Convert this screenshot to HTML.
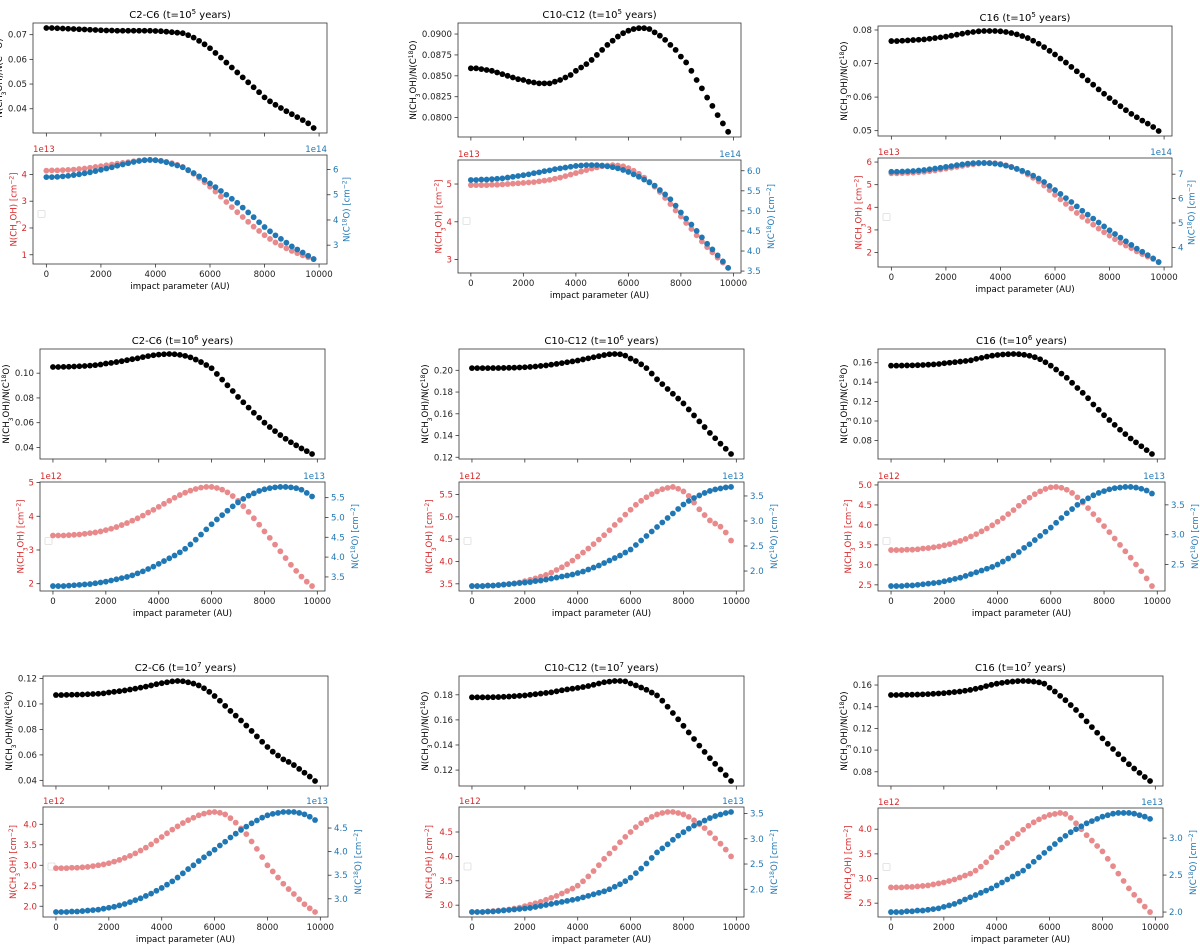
<!DOCTYPE html>
<html><head><meta charset="utf-8"><style>
html,body{margin:0;padding:0;background:#fff;}
svg{display:block;font-family:"DejaVu Sans","Liberation Sans",sans-serif;}
</style></head><body>
<svg id="fig" width="1200" height="951" viewBox="0 0 1200 951" xmlns="http://www.w3.org/2000/svg"></svg>
<script>
const xs = [];
for (let i = 0; i < 50; i++) xs.push(i * 200);
const xTicks = [0, 2000, 4000, 6000, 8000, 10000];

const titles = ["C2-C6", "C10-C12", "C16", "C2-C6", "C10-C12", "C16", "C2-C6", "C10-C12", "C16"];
const timeExp = ["5", "5", "5", "6", "6", "6", "7", "7", "7"];
const redExp = ["1e13", "1e13", "1e13", "1e12", "1e12", "1e12", "1e12", "1e12", "1e12"];
const blueExp = ["1e14", "1e14", "1e14", "1e13", "1e13", "1e13", "1e13", "1e13", "1e13"];

const ratio1 = [.0727,.0727,.0726,.0725,.0724,.0723,.0722,.0721,.0720,.0719,.0718,.0717,.0717,.0716,.0716,.0716,.0716,.0716,.0716,.0716,.0715,.0714,.0712,.0710,.0708,.0706,.0698,.0688,.0675,.0661,.0645,.0626,.0607,.0587,.0567,.0547,.0527,.0507,.0487,.0467,.0446,.0430,.0416,.0403,.0390,.0378,.0366,.0354,.0341,.0322];
const red1 = [4.14,4.15,4.15,4.16,4.17,4.18,4.20,4.22,4.25,4.28,4.31,4.34,4.37,4.40,4.43,4.46,4.49,4.52,4.53,4.54,4.53,4.51,4.47,4.42,4.36,4.28,4.15,4.02,3.87,3.71,3.54,3.36,3.17,2.97,2.78,2.59,2.41,2.23,2.05,1.89,1.73,1.59,1.46,1.35,1.24,1.14,1.06,0.98,0.91,0.84];
const blue1 = [5.70,5.70,5.71,5.73,5.75,5.78,5.81,5.85,5.89,5.94,5.99,6.04,6.09,6.15,6.20,6.25,6.30,6.34,6.37,6.38,6.37,6.34,6.29,6.22,6.16,6.09,5.98,5.86,5.73,5.59,5.45,5.30,5.15,5.00,4.84,4.68,4.49,4.30,4.11,3.91,3.72,3.55,3.39,3.25,3.10,2.95,2.83,2.71,2.58,2.45];

const ratio2 = [.0859,.0859,.0858,.0857,.0856,.0854,.0852,.0850,.0848,.0846,.0845,.0843,.0842,.0841,.0841,.0841,.0843,.0845,.0848,.0851,.0856,.0860,.0864,.0869,.0875,.0881,.0887,.0892,.0897,.0901,.0904,.0906,.0907,.0907,.0906,.0902,.0898,.0893,.0887,.0881,.0873,.0866,.0856,.0845,.0835,.0824,.0814,.0803,.0793,.0783];
const red2 = [4.97,4.97,4.97,4.97,4.98,4.98,4.99,5.00,5.01,5.02,5.03,5.04,5.05,5.07,5.09,5.11,5.14,5.17,5.21,5.25,5.29,5.33,5.37,5.41,5.44,5.47,5.49,5.50,5.49,5.47,5.42,5.35,5.27,5.17,5.06,4.93,4.79,4.63,4.47,4.30,4.14,3.97,3.81,3.64,3.48,3.33,3.19,3.05,2.92,2.78];
const blue2 = [5.77,5.77,5.78,5.78,5.79,5.80,5.81,5.83,5.85,5.87,5.89,5.91,5.94,5.96,5.99,6.01,6.04,6.06,6.08,6.10,6.12,6.13,6.14,6.14,6.14,6.13,6.11,6.09,6.06,6.02,5.97,5.91,5.85,5.78,5.71,5.63,5.52,5.41,5.29,5.13,4.96,4.81,4.66,4.50,4.34,4.18,4.04,3.89,3.74,3.58];

const ratio3 = [.0767,.0767,.0768,.0769,.0770,.0771,.0772,.0774,.0776,.0778,.0780,.0783,.0786,.0789,.0792,.0794,.0796,.0797,.0797,.0797,.0796,.0794,.0791,.0787,.0782,.0776,.0768,.0759,.0749,.0738,.0727,.0715,.0703,.0690,.0677,.0664,.0650,.0637,.0623,.0610,.0597,.0585,.0573,.0561,.0550,.0540,.0530,.0521,.0511,.0499];
const red3 = [5.50,5.50,5.51,5.52,5.53,5.55,5.57,5.60,5.63,5.67,5.71,5.75,5.79,5.83,5.87,5.90,5.93,5.95,5.96,5.95,5.92,5.86,5.79,5.69,5.58,5.45,5.30,5.14,4.96,4.76,4.55,4.35,4.15,3.95,3.75,3.58,3.40,3.23,3.06,2.90,2.75,2.59,2.44,2.31,2.19,2.05,1.93,1.82,1.71,1.58];
const blue3 = [7.10,7.10,7.11,7.12,7.13,7.15,7.17,7.20,7.23,7.26,7.30,7.33,7.37,7.40,7.43,7.45,7.46,7.46,7.45,7.43,7.40,7.35,7.29,7.22,7.14,7.05,6.94,6.82,6.68,6.52,6.35,6.19,6.02,5.86,5.68,5.50,5.34,5.18,5.02,4.86,4.70,4.55,4.40,4.25,4.10,3.95,3.82,3.68,3.55,3.40];

const ratio4 = [.1050,.1050,.1051,.1052,.1054,.1056,.1058,.1061,.1065,.1070,.1078,.1083,.1090,.1097,.1105,.1113,.1120,.1130,.1138,.1145,.1150,.1153,.1155,.1153,.1148,.1140,.1128,.1110,.1090,.1066,.1040,.0994,.0948,.0902,.0856,.0808,.0765,.0722,.0680,.0640,.0600,.0565,.0532,.0500,.0470,.0442,.0417,.0392,.0370,.0347];
const red4 = [3.43,3.43,3.43,3.44,3.45,3.46,3.48,3.50,3.52,3.55,3.59,3.63,3.68,3.74,3.80,3.87,3.94,4.02,4.11,4.19,4.28,4.37,4.46,4.55,4.63,4.70,4.76,4.81,4.85,4.87,4.87,4.84,4.79,4.71,4.60,4.46,4.30,4.13,3.94,3.75,3.55,3.36,3.16,2.96,2.76,2.56,2.38,2.21,2.06,1.93];
const blue4 = [3.27,3.27,3.27,3.28,3.29,3.30,3.31,3.32,3.34,3.36,3.38,3.41,3.44,3.47,3.50,3.54,3.59,3.64,3.70,3.76,3.83,3.90,3.97,4.04,4.12,4.21,4.32,4.44,4.57,4.70,4.83,4.95,5.06,5.17,5.28,5.38,5.47,5.55,5.61,5.67,5.71,5.74,5.76,5.77,5.77,5.76,5.74,5.70,5.62,5.53];

const ratio5 = [.2020,.2020,.2020,.2020,.2021,.2021,.2022,.2023,.2024,.2026,.2028,.2031,.2035,.2040,.2045,.2052,.2059,.2066,.2074,.2082,.2090,.2100,.2110,.2120,.2130,.2140,.2148,.2150,.2148,.2135,.2108,.2085,.2055,.2020,.1970,.1917,.1873,.1828,.1784,.1740,.1695,.1640,.1585,.1530,.1478,.1424,.1375,.1325,.1278,.1230];
const red5 = [3.45,3.45,3.45,3.46,3.46,3.47,3.48,3.49,3.51,3.53,3.56,3.59,3.62,3.66,3.70,3.75,3.81,3.87,3.94,4.02,4.11,4.20,4.29,4.39,4.49,4.59,4.70,4.82,4.93,5.05,5.16,5.27,5.36,5.44,5.51,5.57,5.62,5.65,5.67,5.63,5.57,5.47,5.32,5.17,5.04,4.92,4.85,4.78,4.65,4.47];
const blue5 = [1.70,1.70,1.70,1.71,1.71,1.72,1.73,1.74,1.75,1.76,1.77,1.78,1.80,1.81,1.83,1.85,1.87,1.89,1.91,1.93,1.96,1.99,2.03,2.07,2.11,2.16,2.21,2.26,2.31,2.37,2.43,2.52,2.61,2.70,2.79,2.88,2.97,3.06,3.15,3.24,3.33,3.40,3.46,3.51,3.56,3.60,3.63,3.65,3.67,3.68];

const ratio6 = [.1570,.1570,.1571,.1572,.1573,.1575,.1577,.1580,.1583,.1587,.1595,.1600,.1606,.1612,.1618,.1625,.1640,.1650,.1663,.1673,.1680,.1685,.1688,.1690,.1688,.1682,.1672,.1657,.1636,.1605,.1570,.1530,.1488,.1445,.1393,.1340,.1290,.1235,.1170,.1115,.1060,.1010,.0960,.0910,.0865,.0820,.0780,.0740,.0700,.0660];
const red6 = [3.37,3.37,3.37,3.38,3.38,3.39,3.41,3.42,3.44,3.46,3.49,3.52,3.56,3.60,3.65,3.71,3.77,3.84,3.91,3.99,4.08,4.17,4.27,4.37,4.48,4.58,4.68,4.77,4.84,4.90,4.94,4.95,4.93,4.88,4.80,4.69,4.56,4.42,4.27,4.12,3.97,3.82,3.66,3.50,3.34,3.18,3.01,2.84,2.66,2.47];
const blue6 = [2.14,2.14,2.14,2.15,2.15,2.16,2.17,2.18,2.19,2.20,2.22,2.24,2.26,2.28,2.31,2.34,2.37,2.40,2.43,2.46,2.50,2.55,2.60,2.65,2.71,2.78,2.84,2.91,2.98,3.05,3.12,3.20,3.28,3.36,3.43,3.50,3.56,3.61,3.66,3.70,3.73,3.76,3.78,3.79,3.80,3.80,3.79,3.77,3.74,3.69];

const ratio7 = [.1070,.1070,.1071,.1072,.1073,.1074,.1076,.1078,.1080,.1083,.1090,.1095,.1100,.1106,.1113,.1120,.1128,.1136,.1145,.1155,.1163,.1170,.1177,.1180,.1178,.1170,.1160,.1145,.1123,.1095,.1062,.1025,.0985,.0945,.0908,.0870,.0830,.0788,.0745,.0703,.0662,.0625,.0595,.0565,.0545,.0520,.0490,.0460,.0430,.0395];
const red7 = [2.93,2.93,2.93,2.94,2.94,2.95,2.96,2.98,3.00,3.02,3.05,3.09,3.13,3.18,3.23,3.29,3.36,3.43,3.51,3.60,3.69,3.78,3.87,3.95,4.03,4.10,4.16,4.22,4.26,4.29,4.30,4.28,4.24,4.15,4.04,3.90,3.76,3.58,3.40,3.20,3.00,2.85,2.70,2.55,2.42,2.30,2.17,2.05,1.95,1.86];
const blue7 = [2.72,2.72,2.72,2.73,2.73,2.74,2.75,2.76,2.77,2.79,2.81,2.83,2.86,2.89,2.93,2.97,3.01,3.06,3.11,3.17,3.23,3.30,3.37,3.45,3.54,3.63,3.71,3.80,3.88,3.96,4.04,4.13,4.21,4.30,4.38,4.46,4.53,4.60,4.66,4.72,4.77,4.80,4.82,4.84,4.84,4.84,4.82,4.79,4.74,4.67];

const ratio8 = [.1780,.1780,.1780,.1780,.1781,.1782,.1784,.1786,.1789,.1792,.1795,.1800,.1805,.1810,.1815,.1820,.1828,.1836,.1843,.1849,.1855,.1862,.1870,.1880,.1890,.1900,.1905,.1910,.1910,.1907,.1890,.1875,.1858,.1840,.1818,.1795,.1753,.1705,.1655,.1605,.1553,.1500,.1448,.1395,.1345,.1295,.1250,.1205,.1160,.1113];
const red8 = [2.86,2.86,2.86,2.87,2.88,2.89,2.90,2.91,2.93,2.95,2.98,3.01,3.04,3.07,3.11,3.15,3.19,3.24,3.29,3.34,3.40,3.49,3.59,3.70,3.82,3.95,4.06,4.17,4.29,4.40,4.50,4.60,4.68,4.75,4.81,4.86,4.89,4.91,4.91,4.89,4.86,4.81,4.74,4.66,4.58,4.48,4.37,4.26,4.14,4.00];
const blue8 = [1.55,1.55,1.55,1.56,1.56,1.57,1.58,1.59,1.60,1.61,1.62,1.63,1.65,1.67,1.69,1.71,1.73,1.75,1.77,1.79,1.81,1.84,1.87,1.90,1.93,1.96,2.00,2.05,2.10,2.16,2.23,2.32,2.41,2.51,2.62,2.73,2.81,2.89,2.98,3.06,3.13,3.20,3.26,3.31,3.36,3.41,3.45,3.48,3.51,3.53];

const ratio9 = [.1508,.1508,.1509,.1510,.1511,.1512,.1514,.1516,.1519,.1522,.1525,.1530,.1535,.1540,.1547,.1555,.1565,.1575,.1590,.1602,.1612,.1620,.1627,.1632,.1636,.1637,.1636,.1632,.1625,.1612,.1575,.1540,.1500,.1460,.1415,.1370,.1318,.1265,.1212,.1160,.1108,.1058,.1010,.0962,.0915,.0870,.0830,.0790,.0752,.0715];
const red9 = [2.82,2.82,2.82,2.83,2.83,2.84,2.85,2.86,2.88,2.90,2.92,2.95,2.98,3.02,3.06,3.10,3.16,3.24,3.33,3.43,3.54,3.63,3.72,3.81,3.90,3.99,4.07,4.14,4.20,4.25,4.29,4.31,4.33,4.31,4.23,4.12,4.00,3.88,3.77,3.66,3.55,3.40,3.25,3.10,2.95,2.80,2.67,2.55,2.43,2.32];
const blue9 = [2.00,2.00,2.00,2.01,2.01,2.02,2.02,2.03,2.04,2.05,2.07,2.09,2.11,2.14,2.17,2.20,2.23,2.26,2.29,2.32,2.36,2.40,2.44,2.48,2.52,2.56,2.62,2.68,2.74,2.80,2.86,2.92,2.98,3.03,3.08,3.12,3.16,3.20,3.23,3.26,3.29,3.31,3.33,3.34,3.34,3.34,3.33,3.31,3.29,3.26];

const ratioTicks1 = [0.04,0.05,0.06,0.07], ratioTicks2 = [0.08,0.0825,0.085,0.0875,0.09], ratioTicks3 = [0.05,0.06,0.07,0.08];
const ratioTicks4 = [0.04,0.06,0.08,0.10], ratioTicks5 = [0.12,0.14,0.16,0.18,0.20], ratioTicks6 = [0.08,0.10,0.12,0.14,0.16];
const ratioTicks7 = [0.04,0.06,0.08,0.10,0.12], ratioTicks8 = [0.12,0.14,0.16,0.18], ratioTicks9 = [0.08,0.10,0.12,0.14,0.16];
const redTicks1 = [1,2,3,4], redTicks2 = [3,4,5], redTicks3 = [2,3,4,5,6];
const redTicks4 = [2,3,4,5], redTicks5 = [3.5,4.0,4.5,5.0,5.5], redTicks6 = [2.5,3.0,3.5,4.0,4.5,5.0];
const redTicks7 = [2.0,2.5,3.0,3.5,4.0], redTicks8 = [3.0,3.5,4.0,4.5], redTicks9 = [2.5,3.0,3.5,4.0];
const blueTicks1 = [3,4,5,6], blueTicks2 = [3.5,4.0,4.5,5.0,5.5,6.0], blueTicks3 = [4,5,6,7];
const blueTicks4 = [3.5,4.0,4.5,5.0,5.5], blueTicks5 = [2.0,2.5,3.0,3.5], blueTicks6 = [2.5,3.0,3.5];
const blueTicks7 = [3.0,3.5,4.0,4.5], blueTicks8 = [2.0,2.5,3.0,3.5], blueTicks9 = [2.0,2.5,3.0];

const ratioDec = [2,4,2,2,2,2,2,2,2];
const redDec = [0,0,0,0,1,1,1,1,1];
const blueDec = [0,1,0,1,1,1,1,1,1];

// layout: [left, right, top1, bottom1, top2, bottom2]
const geom = [
  [33,327,23,133,155,264],[458,741,23,137,160,273],[878,1172,26,136,158,267],
  [40,325,349,459,482,591],[459,744,349,459,482,591],[878,1165,349,459,482,591],
  [43,328,676,786,807,917],[459,744,676,786,807,917],[878,1163,676,786,808,917]
];

const ratios = [ratio1,ratio2,ratio3,ratio4,ratio5,ratio6,ratio7,ratio8,ratio9];
const reds = [red1,red2,red3,red4,red5,red6,red7,red8,red9];
const blues = [blue1,blue2,blue3,blue4,blue5,blue6,blue7,blue8,blue9];
const rTicks = [ratioTicks1,ratioTicks2,ratioTicks3,ratioTicks4,ratioTicks5,ratioTicks6,ratioTicks7,ratioTicks8,ratioTicks9];
const reTicks = [redTicks1,redTicks2,redTicks3,redTicks4,redTicks5,redTicks6,redTicks7,redTicks8,redTicks9];
const bTicks = [blueTicks1,blueTicks2,blueTicks3,blueTicks4,blueTicks5,blueTicks6,blueTicks7,blueTicks8,blueTicks9];

const NS = "http://www.w3.org/2000/svg";
const svg = document.getElementById("fig");
function mk(tag, attrs, parent, text) {
  const e = document.createElementNS(NS, tag);
  for (const k in attrs) e.setAttribute(k, attrs[k]);
  if (text !== undefined) e.textContent = text;
  (parent || svg).appendChild(e);
  return e;
}
const RED = "#d62728", BLUE = "#1f77b4", FS = 8.6;

function scaleY(vals, top, bot) {
  let mn = Math.min(...vals), mx = Math.max(...vals);
  const m = (mx - mn) * 0.05; mn -= m; mx += m;
  return v => bot - (v - mn) / (mx - mn) * (bot - top);
}
function yAxis(g, ticks, dec, sy, x, side, color, top, bot, name) {
  let maxLen = 0;
  ticks.forEach(t => {
    const y = sy(t);
    if (y < top - 0.5 || y > bot + 0.5) return;
    const lbl = t.toFixed(dec);
    maxLen = Math.max(maxLen, lbl.length);
    const tk = mk("line", {x1: x, x2: x + side * 3.5, y1: y, y2: y, stroke: "#333", "stroke-width": 0.8}, g);
    
    
    const tx = mk("text", {x: x + side * 6, y: y + 3, "font-size": FS, fill: color, "text-anchor": side < 0 ? "end" : "start"}, g, lbl);
    
    
  });
  return maxLen;
}
function rotLabel(g, cx, cy, parts, color, name) {
  const t = mk("text", {x: 0, y: 0, "font-size": FS, fill: color, "text-anchor": "middle", transform: `translate(${cx},${cy}) rotate(-90)`}, g);
  
  
  parts.forEach(p => {
    const s = mk("tspan", p[1] ? {"baseline-shift": p[1], "font-size": FS * 0.7} : {}, t, p[0]);
  });
}

for (let p = 0; p < 9; p++) {
  const [L, R, T1, B1, T2, B2] = geom[p];
  const g = mk("g", {});
  
  
  const sx = v => L + (v + 490) / 10780 * (R - L);

  // title
  const tt = mk("text", {x: (L + R) / 2, y: T1 - 5, "font-size": 10, "text-anchor": "middle", fill: "#000"}, g);
  
  
  mk("tspan", {}, tt, titles[p] + " (t=10");
  mk("tspan", {"baseline-shift": "super", "font-size": 7}, tt, timeExp[p]);
  mk("tspan", {}, tt, " years)");

  // top ratio plot
  const syR = scaleY(ratios[p], T1, B1);
  const f1 = mk("rect", {x: L, y: T1, width: R - L, height: B1 - T1, fill: "none", stroke: "#333", "stroke-width": 0.8}, g);
  
  
  xTicks.forEach(t => {
    const l = mk("line", {x1: sx(t), x2: sx(t), y1: B1, y2: B1 + 3.5, stroke: "#333", "stroke-width": 0.8}, g);
    
    
  });
  const ml = yAxis(g, rTicks[p], ratioDec[p], syR, L, -1, "#222", T1, B1, 'ratio-y');
  rotLabel(g, L - 10 - ml * 5.3, (T1 + B1) / 2, [["N(CH"], ["3", "sub"], ["OH)/N(C"], ["18", "super"], ["O)"]], "#000", 'ratio-y-axis-title');
  ratios[p].forEach((v, i) => {
    const c = mk("circle", {cx: sx(xs[i]), cy: syR(v), r: 2.9, fill: "#000"}, g);
    
    
  });

  // bottom dual plot
  const syRed = scaleY(reds[p], T2, B2);
  const syBlue = scaleY(blues[p], T2, B2);
  const f2 = mk("rect", {x: L, y: T2, width: R - L, height: B2 - T2, fill: "none", stroke: "#333", "stroke-width": 0.8}, g);
  
  
  xTicks.forEach(t => {
    mk("line", {x1: sx(t), x2: sx(t), y1: B2, y2: B2 + 3.5, stroke: "#333", "stroke-width": 0.8}, g);
    const xl = mk("text", {x: sx(t), y: B2 + 13, "font-size": FS, "text-anchor": "middle", fill: "#222"}, g, String(t));
    
    
  });
  const xt = mk("text", {x: (L + R) / 2, y: B2 + 25, "font-size": FS, "text-anchor": "middle", fill: "#000"}, g, "impact parameter (AU)");
  
  
  const mlr = yAxis(g, reTicks[p], redDec[p], syRed, L, -1, RED, T2, B2, 'red-y');
  const mlb = yAxis(g, bTicks[p], blueDec[p], syBlue, R, 1, BLUE, T2, B2, 'blue-y');
  rotLabel(g, L - 11 - mlr * 5.3, (T2 + B2) / 2, [["N(CH"], ["3", "sub"], ["OH) [cm"], ["−2", "super"], ["]"]], RED, 'red-y-axis-title');
  rotLabel(g, R + 17 + mlb * 5.3, (T2 + B2) / 2, [["N(C"], ["18", "super"], ["O) [cm"], ["−2", "super"], ["]"]], BLUE, 'blue-y-axis-title');
  const oe1 = mk("text", {x: L, y: T2 - 3, "font-size": FS, fill: RED}, g, redExp[p]);
  
  
  const oe2 = mk("text", {x: R, y: T2 - 3, "font-size": FS, fill: BLUE, "text-anchor": "end"}, g, blueExp[p]);
  
  
  const lg = mk("rect", {x: L + 5, y: (T2 + B2) / 2 + 1, width: 7, height: 7, rx: 1, fill: "#fff", stroke: "#ddd", "stroke-width": 0.8}, g);
  
  
  reds[p].forEach((v, i) => {
    const c = mk("circle", {cx: sx(xs[i]), cy: syRed(v), r: 2.9, fill: "#e88a8b"}, g);
    
    
  });
  blues[p].forEach((v, i) => {
    const c = mk("circle", {cx: sx(xs[i]), cy: syBlue(v), r: 2.9, fill: BLUE}, g);
    
    
  });
}
</script>
</body></html>
